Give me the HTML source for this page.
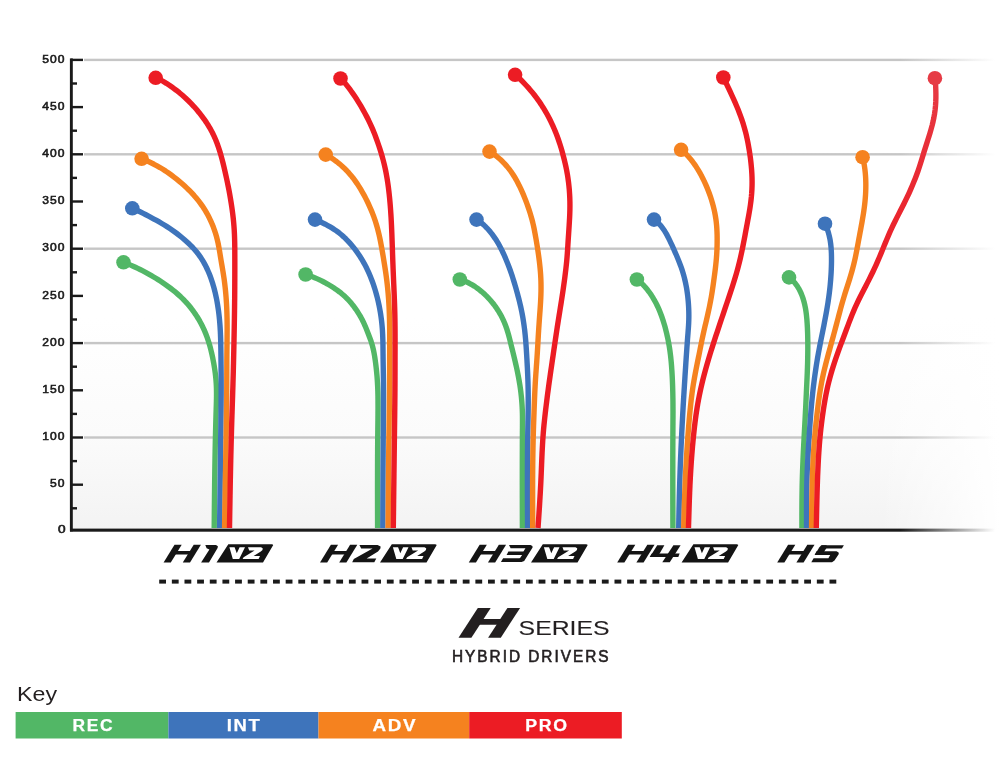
<!DOCTYPE html>
<html><head><meta charset="utf-8"><style>
html,body{margin:0;padding:0;background:#fff;}
body{width:1000px;height:758px;overflow:hidden;position:relative;font-family:"Liberation Sans",sans-serif;}
svg{position:absolute;left:0;top:0;display:block;will-change:transform;}
</style></head><body>
<svg width="1000" height="758" viewBox="0 0 1000 758">
<defs>
<linearGradient id="bgv" x1="0" y1="0" x2="0" y2="1">
 <stop offset="0" stop-color="#ffffff"/>
 <stop offset="0.55" stop-color="#ffffff"/>
 <stop offset="0.8" stop-color="#fbfbfb"/>
 <stop offset="1" stop-color="#f3f3f3"/>
</linearGradient>
<linearGradient id="fadeR" x1="0" y1="0" x2="1" y2="0">
 <stop offset="0" stop-color="#fff" stop-opacity="0"/>
 <stop offset="1" stop-color="#fff" stop-opacity="1"/>
</linearGradient>
<linearGradient id="gridfade" gradientUnits="userSpaceOnUse" x1="900" y1="0" x2="995" y2="0">
 <stop offset="0" stop-color="#c6c6c6"/>
 <stop offset="1" stop-color="#c6c6c6" stop-opacity="0"/>
</linearGradient>
<linearGradient id="axisfade" gradientUnits="userSpaceOnUse" x1="900" y1="0" x2="995" y2="0">
 <stop offset="0" stop-color="#1a1a1a"/>
 <stop offset="1" stop-color="#1a1a1a" stop-opacity="0"/>
</linearGradient>
<linearGradient id="h5red" gradientUnits="userSpaceOnUse" x1="0" y1="78" x2="0" y2="300">
 <stop offset="0" stop-color="#e63b45"/>
 <stop offset="0.45" stop-color="#e92a33"/>
 <stop offset="1" stop-color="#ec1c24"/>
</linearGradient>
</defs>
<rect x="72" y="59" width="928" height="471" fill="url(#bgv)"/>
<rect x="880" y="59" width="120" height="471" fill="url(#fadeR)"/>
<rect x="84" y="58.70" width="912" height="2.4" fill="url(#gridfade)"/>
<rect x="84" y="153.10" width="912" height="2.4" fill="url(#gridfade)"/>
<rect x="84" y="247.50" width="912" height="2.4" fill="url(#gridfade)"/>
<rect x="84" y="341.90" width="912" height="2.4" fill="url(#gridfade)"/>
<rect x="84" y="436.30" width="912" height="2.4" fill="url(#gridfade)"/>
<path d="M123.56 262.17L125.95 263.15L128.34 264.13L130.72 265.13L133.09 266.16L135.44 267.23L137.77 268.34L140.09 269.48L142.39 270.65L144.68 271.86L146.95 273.10L149.20 274.36L151.45 275.65L153.68 276.97L155.89 278.31L158.09 279.67L160.28 281.06L162.44 282.48L164.58 283.93L166.70 285.42L168.80 286.94L170.86 288.49L172.90 290.09L174.91 291.72L176.89 293.39L178.82 295.11L180.72 296.86L182.58 298.66L184.40 300.50L186.16 302.39L187.88 304.32L189.55 306.30L191.17 308.31L192.74 310.37L194.25 312.47L195.71 314.60L197.12 316.77L198.47 318.98L199.77 321.22L201.01 323.49L202.19 325.78L203.32 328.11L204.38 330.47L205.39 332.84L206.34 335.25L207.23 337.67L208.07 340.12L208.86 342.58L209.60 345.06L210.29 347.56L210.94 350.07L211.55 352.59L212.12 355.12L212.66 357.66L213.16 360.20L213.64 362.75L214.08 365.31L214.50 367.87L214.88 370.43L215.23 372.99L215.55 375.55L215.82 378.12L216.04 380.70L216.22 383.27L216.36 385.85L216.45 388.43L216.50 391.01L216.52 393.59L216.51 396.18L216.47 398.76L216.42 401.35L216.35 403.94L216.27 406.52L216.19 409.11L216.11 411.70L216.03 414.28L215.96 416.87L215.88 419.45L215.81 422.04L215.74 424.62L215.67 427.20L215.61 429.79L215.54 432.37L215.48 434.96L215.42 437.54L215.36 440.13L215.31 442.71L215.26 445.29L215.20 447.88L215.15 450.46L215.11 453.05L215.06 455.63L215.01 458.22L214.97 460.80L214.93 463.38L214.89 465.97L214.85 468.55L214.81 471.14L214.77 473.72L214.74 476.31L214.71 478.89L214.67 481.48L214.64 484.06L214.61 486.65L214.58 489.23L214.55 491.81L214.52 494.40L214.49 496.98L214.47 499.57L214.44 502.15L214.41 504.74L214.39 507.32L214.36 509.91L214.34 512.49L214.32 515.08L214.29 517.66L214.27 520.25L214.25 522.83L214.22 525.42L214.20 528.00" fill="none" stroke="#52b766" stroke-width="5.4" stroke-linejoin="round"/>
<circle cx="123.5" cy="262.3" r="7.3" fill="#52b766"/>
<path d="M132.38 208.14L135.11 209.42L137.83 210.71L140.55 212.02L143.24 213.37L145.93 214.75L148.60 216.15L151.27 217.57L153.92 219.01L156.56 220.48L159.19 221.97L161.79 223.49L164.38 225.04L166.95 226.64L169.48 228.28L171.98 229.97L174.45 231.72L176.88 233.51L179.27 235.36L181.63 237.26L183.94 239.20L186.21 241.20L188.44 243.24L190.60 245.34L192.71 247.50L194.74 249.72L196.69 252.02L198.53 254.39L200.28 256.84L201.93 259.36L203.48 261.94L204.95 264.57L206.33 267.26L207.62 269.99L208.82 272.75L209.95 275.56L211.00 278.39L211.98 281.26L212.89 284.14L213.73 287.05L214.51 289.97L215.23 292.90L215.89 295.85L216.51 298.81L217.07 301.79L217.58 304.76L218.05 307.75L218.48 310.74L218.87 313.73L219.21 316.73L219.51 319.74L219.77 322.74L220.00 325.75L220.19 328.77L220.36 331.78L220.49 334.80L220.60 337.81L220.69 340.83L220.76 343.85L220.82 346.87L220.87 349.89L220.91 352.91L220.95 355.94L220.98 358.96L221.02 361.98L221.05 365.00L221.08 368.01L221.11 371.03L221.14 374.05L221.16 377.07L221.18 380.09L221.19 383.11L221.19 386.13L221.19 389.15L221.18 392.16L221.17 395.18L221.15 398.20L221.13 401.22L221.11 404.24L221.08 407.26L221.05 410.28L221.02 413.29L220.98 416.31L220.94 419.33L220.91 422.35L220.87 425.37L220.83 428.39L220.79 431.41L220.75 434.42L220.71 437.44L220.67 440.46L220.63 443.48L220.59 446.50L220.55 449.52L220.52 452.54L220.48 455.56L220.44 458.57L220.40 461.59L220.37 464.61L220.33 467.63L220.29 470.65L220.25 473.67L220.22 476.69L220.18 479.70L220.14 482.72L220.11 485.74L220.07 488.76L220.03 491.78L220.00 494.80L219.96 497.81L219.92 500.83L219.89 503.85L219.85 506.87L219.82 509.89L219.78 512.91L219.74 515.93L219.71 518.94L219.67 521.96L219.64 524.98L219.60 528.00" fill="none" stroke="#3e74bb" stroke-width="5.4" stroke-linejoin="round"/>
<circle cx="132.3" cy="208.3" r="7.3" fill="#3e74bb"/>
<path d="M141.75 158.50L144.85 159.89L147.93 161.31L150.99 162.76L154.02 164.28L157.01 165.88L159.95 167.55L162.86 169.30L165.71 171.13L168.52 173.03L171.29 175.00L174.00 177.04L176.68 179.14L179.31 181.30L181.90 183.51L184.44 185.78L186.92 188.10L189.35 190.49L191.72 192.93L194.02 195.44L196.25 198.00L198.40 200.64L200.46 203.33L202.42 206.10L204.29 208.93L206.05 211.83L207.71 214.79L209.27 217.80L210.73 220.87L212.10 223.97L213.36 227.12L214.52 230.31L215.58 233.53L216.53 236.78L217.38 240.06L218.13 243.36L218.78 246.69L219.37 250.04L219.93 253.39L220.47 256.75L221.02 260.10L221.59 263.45L222.16 266.80L222.73 270.15L223.28 273.51L223.80 276.86L224.28 280.22L224.72 283.59L225.11 286.96L225.47 290.34L225.78 293.72L226.06 297.10L226.30 300.48L226.51 303.87L226.69 307.26L226.83 310.66L226.94 314.05L227.03 317.45L227.09 320.84L227.12 324.24L227.13 327.63L227.13 331.03L227.11 334.43L227.08 337.82L227.05 341.22L227.00 344.62L226.96 348.01L226.92 351.41L226.88 354.81L226.85 358.21L226.83 361.60L226.82 365.00L226.81 368.40L226.80 371.79L226.79 375.19L226.78 378.58L226.77 381.98L226.76 385.38L226.74 388.77L226.71 392.17L226.68 395.56L226.64 398.96L226.61 402.36L226.56 405.75L226.52 409.15L226.47 412.54L226.42 415.94L226.37 419.34L226.32 422.73L226.27 426.13L226.21 429.52L226.16 432.92L226.10 436.31L226.05 439.71L226.00 443.11L225.94 446.50L225.89 449.90L225.83 453.29L225.78 456.69L225.72 460.09L225.67 463.48L225.61 466.88L225.55 470.27L225.50 473.67L225.44 477.06L225.39 480.46L225.33 483.86L225.28 487.25L225.22 490.65L225.16 494.04L225.11 497.44L225.05 500.83L224.99 504.23L224.94 507.63L224.88 511.02L224.83 514.42L224.77 517.81L224.71 521.21L224.66 524.60L224.60 528.00" fill="none" stroke="#f5821f" stroke-width="5.4" stroke-linejoin="round"/>
<circle cx="141.6" cy="158.8" r="7.3" fill="#f5821f"/>
<path d="M156.02 77.27L159.50 79.24L162.96 81.25L166.37 83.34L169.73 85.53L173.01 87.82L176.23 90.21L179.38 92.70L182.45 95.29L185.44 97.97L188.36 100.75L191.20 103.61L193.95 106.55L196.61 109.57L199.19 112.67L201.67 115.84L204.06 119.09L206.34 122.40L208.50 125.78L210.54 129.23L212.43 132.76L214.17 136.37L215.77 140.04L217.23 143.78L218.58 147.56L219.81 151.38L220.95 155.24L222.01 159.13L223.01 163.03L223.95 166.95L224.87 170.88L225.77 174.81L226.63 178.75L227.47 182.69L228.27 186.63L229.03 190.59L229.76 194.55L230.44 198.51L231.09 202.48L231.70 206.46L232.26 210.44L232.78 214.42L233.25 218.42L233.65 222.41L233.98 226.41L234.25 230.42L234.45 234.44L234.59 238.45L234.70 242.47L234.76 246.49L234.80 250.52L234.81 254.54L234.82 258.57L234.82 262.59L234.82 266.62L234.82 270.64L234.81 274.67L234.80 278.69L234.78 282.71L234.76 286.73L234.73 290.76L234.70 294.78L234.67 298.80L234.62 302.82L234.57 306.85L234.52 310.87L234.46 314.89L234.40 318.91L234.33 322.93L234.26 326.95L234.18 330.97L234.11 335.00L234.03 339.02L233.95 343.04L233.87 347.06L233.78 351.08L233.69 355.10L233.60 359.12L233.51 363.14L233.41 367.16L233.31 371.19L233.20 375.21L233.09 379.23L232.97 383.25L232.86 387.27L232.73 391.29L232.61 395.31L232.48 399.33L232.35 403.35L232.22 407.37L232.09 411.39L231.96 415.41L231.83 419.43L231.71 423.45L231.59 427.47L231.47 431.49L231.36 435.51L231.25 439.53L231.14 443.55L231.04 447.57L230.94 451.59L230.84 455.61L230.75 459.63L230.66 463.66L230.58 467.68L230.49 471.70L230.41 475.72L230.33 479.74L230.25 483.76L230.18 487.78L230.11 491.80L230.03 495.83L229.96 499.85L229.90 503.87L229.83 507.89L229.76 511.91L229.69 515.93L229.63 519.96L229.56 523.98L229.50 528.00" fill="none" stroke="#ec1c24" stroke-width="5.4" stroke-linejoin="round"/>
<circle cx="155.7" cy="77.8" r="7.3" fill="#ec1c24"/>
<path d="M305.67 274.32L307.93 275.13L310.18 275.95L312.42 276.80L314.64 277.68L316.84 278.62L319.03 279.60L321.19 280.64L323.32 281.73L325.44 282.86L327.53 284.03L329.60 285.25L331.65 286.51L333.67 287.81L335.66 289.15L337.62 290.54L339.55 291.97L341.43 293.46L343.26 295.00L345.04 296.60L346.76 298.25L348.42 299.97L350.03 301.75L351.57 303.58L353.07 305.45L354.51 307.37L355.90 309.32L357.24 311.31L358.53 313.33L359.78 315.38L360.97 317.46L362.10 319.57L363.18 321.71L364.19 323.88L365.16 326.07L366.08 328.28L366.97 330.50L367.85 332.73L368.72 334.97L369.58 337.20L370.41 339.44L371.18 341.70L371.90 343.98L372.54 346.27L373.12 348.59L373.64 350.92L374.10 353.27L374.52 355.62L374.90 357.99L375.25 360.37L375.57 362.75L375.87 365.13L376.15 367.51L376.41 369.90L376.65 372.28L376.88 374.67L377.08 377.06L377.26 379.45L377.41 381.84L377.55 384.24L377.67 386.63L377.76 389.02L377.84 391.42L377.90 393.82L377.95 396.21L377.98 398.61L378.00 401.00L378.01 403.40L378.02 405.80L378.02 408.19L378.01 410.59L377.99 412.98L377.98 415.38L377.95 417.78L377.93 420.17L377.90 422.57L377.87 424.97L377.84 427.36L377.82 429.76L377.79 432.15L377.76 434.55L377.74 436.95L377.72 439.34L377.70 441.74L377.68 444.14L377.66 446.53L377.64 448.93L377.63 451.32L377.62 453.72L377.60 456.12L377.59 458.51L377.58 460.91L377.57 463.30L377.56 465.70L377.56 468.10L377.55 470.49L377.55 472.89L377.54 475.28L377.54 477.68L377.54 480.08L377.53 482.47L377.53 484.87L377.53 487.27L377.53 489.66L377.53 492.06L377.54 494.45L377.54 496.85L377.54 499.25L377.54 501.64L377.55 504.04L377.55 506.43L377.56 508.83L377.56 511.23L377.57 513.62L377.57 516.02L377.58 518.42L377.58 520.81L377.59 523.21L377.59 525.60L377.60 528.00" fill="none" stroke="#52b766" stroke-width="5.4" stroke-linejoin="round"/>
<circle cx="305.6" cy="274.5" r="7.3" fill="#52b766"/>
<path d="M315.11 219.40L317.68 220.57L320.23 221.75L322.78 222.97L325.30 224.22L327.78 225.54L330.23 226.92L332.64 228.37L334.99 229.90L337.28 231.51L339.51 233.21L341.67 235.00L343.76 236.87L345.80 238.81L347.77 240.81L349.68 242.88L351.52 245.00L353.31 247.18L355.05 249.41L356.72 251.67L358.34 253.98L359.90 256.33L361.41 258.71L362.86 261.13L364.25 263.58L365.57 266.06L366.84 268.57L368.05 271.12L369.21 273.69L370.30 276.28L371.35 278.90L372.34 281.53L373.28 284.19L374.17 286.86L375.02 289.55L375.82 292.25L376.58 294.96L377.29 297.69L377.96 300.42L378.58 303.17L379.17 305.93L379.71 308.69L380.21 311.46L380.66 314.24L381.07 317.02L381.44 319.81L381.76 322.60L382.04 325.40L382.27 328.20L382.46 331.01L382.61 333.82L382.73 336.63L382.82 339.44L382.90 342.26L382.95 345.07L382.99 347.89L383.02 350.71L383.05 353.52L383.08 356.34L383.12 359.16L383.16 361.97L383.20 364.79L383.25 367.60L383.30 370.42L383.34 373.23L383.39 376.04L383.43 378.86L383.46 381.67L383.49 384.48L383.51 387.30L383.52 390.11L383.53 392.93L383.54 395.74L383.53 398.55L383.53 401.37L383.51 404.18L383.50 407.00L383.48 409.81L383.46 412.62L383.44 415.44L383.41 418.25L383.39 421.07L383.36 423.88L383.34 426.69L383.31 429.51L383.29 432.32L383.26 435.14L383.24 437.95L383.22 440.77L383.20 443.58L383.17 446.39L383.15 449.21L383.14 452.02L383.12 454.84L383.10 457.65L383.08 460.46L383.07 463.28L383.05 466.09L383.03 468.91L383.02 471.72L383.00 474.53L382.99 477.35L382.98 480.16L382.97 482.98L382.95 485.79L382.94 488.60L382.93 491.42L382.92 494.23L382.91 497.05L382.90 499.86L382.89 502.67L382.88 505.49L382.87 508.30L382.86 511.12L382.85 513.93L382.84 516.74L382.83 519.56L382.82 522.37L382.81 525.19L382.80 528.00" fill="none" stroke="#3e74bb" stroke-width="5.4" stroke-linejoin="round"/>
<circle cx="315" cy="219.6" r="7.3" fill="#3e74bb"/>
<path d="M325.97 154.25L328.72 156.06L331.46 157.90L334.16 159.79L336.80 161.76L339.37 163.82L341.87 165.96L344.28 168.19L346.61 170.51L348.85 172.92L350.99 175.42L353.05 177.99L355.03 180.64L356.92 183.34L358.74 186.11L360.49 188.92L362.16 191.78L363.77 194.67L365.33 197.60L366.82 200.56L368.26 203.54L369.64 206.55L370.97 209.58L372.24 212.64L373.43 215.71L374.55 218.82L375.60 221.95L376.56 225.11L377.45 228.28L378.28 231.48L379.05 234.69L379.77 237.92L380.44 241.15L381.07 244.40L381.67 247.65L382.24 250.91L382.80 254.17L383.34 257.43L383.87 260.70L384.40 263.96L384.92 267.23L385.42 270.49L385.90 273.76L386.35 277.04L386.77 280.31L387.16 283.59L387.52 286.88L387.85 290.16L388.15 293.45L388.41 296.75L388.65 300.04L388.86 303.34L389.04 306.64L389.19 309.94L389.32 313.24L389.43 316.54L389.52 319.84L389.58 323.15L389.63 326.45L389.67 329.75L389.69 333.06L389.70 336.36L389.70 339.67L389.69 342.97L389.68 346.28L389.67 349.58L389.66 352.89L389.64 356.19L389.63 359.50L389.63 362.80L389.62 366.11L389.62 369.41L389.61 372.71L389.60 376.02L389.59 379.32L389.58 382.63L389.56 385.93L389.53 389.23L389.50 392.54L389.47 395.84L389.43 399.15L389.39 402.45L389.35 405.75L389.31 409.06L389.26 412.36L389.21 415.67L389.17 418.97L389.12 422.27L389.07 425.58L389.02 428.88L388.98 432.18L388.93 435.49L388.89 438.79L388.85 442.10L388.81 445.40L388.77 448.70L388.73 452.01L388.70 455.31L388.66 458.62L388.63 461.92L388.60 465.22L388.56 468.53L388.53 471.83L388.50 475.14L388.47 478.44L388.45 481.74L388.42 485.05L388.39 488.35L388.36 491.66L388.34 494.96L388.31 498.26L388.29 501.57L388.26 504.87L388.24 508.18L388.22 511.48L388.19 514.78L388.17 518.09L388.15 521.39L388.12 524.70L388.10 528.00" fill="none" stroke="#f5821f" stroke-width="5.4" stroke-linejoin="round"/>
<circle cx="325.7" cy="154.6" r="7.3" fill="#f5821f"/>
<path d="M340.94 78.12L343.41 81.09L345.84 84.08L348.21 87.12L350.52 90.22L352.76 93.37L354.94 96.57L357.06 99.81L359.11 103.10L361.11 106.43L363.04 109.79L364.91 113.19L366.72 116.63L368.47 120.09L370.14 123.59L371.74 127.13L373.27 130.69L374.72 134.29L376.10 137.92L377.41 141.57L378.67 145.25L379.88 148.93L381.05 152.64L382.15 156.36L383.18 160.10L384.13 163.86L385.00 167.63L385.80 171.43L386.52 175.24L387.17 179.06L387.77 182.89L388.30 186.74L388.79 190.59L389.23 194.45L389.62 198.31L389.98 202.17L390.30 206.04L390.59 209.91L390.85 213.79L391.09 217.66L391.30 221.54L391.49 225.41L391.66 229.29L391.82 233.17L391.96 237.04L392.10 240.92L392.24 244.80L392.37 248.68L392.51 252.56L392.64 256.44L392.78 260.31L392.93 264.19L393.07 268.07L393.23 271.95L393.39 275.82L393.55 279.70L393.72 283.58L393.89 287.45L394.06 291.33L394.22 295.21L394.37 299.08L394.51 302.96L394.64 306.84L394.75 310.72L394.84 314.60L394.91 318.47L394.97 322.35L395.01 326.23L395.04 330.11L395.06 333.99L395.07 337.87L395.07 341.75L395.06 345.64L395.06 349.52L395.05 353.40L395.04 357.28L395.03 361.16L395.03 365.04L395.02 368.92L395.01 372.80L395.00 376.68L394.99 380.56L394.97 384.44L394.95 388.32L394.92 392.20L394.89 396.08L394.85 399.96L394.82 403.84L394.77 407.72L394.73 411.60L394.69 415.48L394.64 419.36L394.59 423.24L394.54 427.12L394.49 431.00L394.44 434.88L394.40 438.76L394.35 442.64L394.30 446.52L394.25 450.40L394.20 454.28L394.15 458.16L394.11 462.04L394.06 465.92L394.01 469.80L393.96 473.68L393.92 477.56L393.87 481.44L393.82 485.32L393.77 489.20L393.73 493.08L393.68 496.96L393.63 500.84L393.58 504.72L393.54 508.60L393.49 512.48L393.44 516.36L393.39 520.24L393.35 524.12L393.30 528.00" fill="none" stroke="#ec1c24" stroke-width="5.4" stroke-linejoin="round"/>
<circle cx="340.5" cy="78.5" r="7.3" fill="#ec1c24"/>
<path d="M459.94 279.23L462.06 280.06L464.16 280.92L466.25 281.81L468.31 282.77L470.32 283.81L472.30 284.92L474.23 286.11L476.12 287.38L477.97 288.71L479.77 290.09L481.54 291.54L483.27 293.03L484.95 294.58L486.59 296.17L488.19 297.81L489.74 299.49L491.24 301.21L492.70 302.97L494.11 304.77L495.46 306.61L496.77 308.49L498.02 310.40L499.22 312.34L500.36 314.32L501.44 316.32L502.47 318.36L503.44 320.42L504.36 322.51L505.22 324.62L506.02 326.75L506.77 328.90L507.46 331.07L508.11 333.26L508.73 335.46L509.31 337.66L509.88 339.88L510.43 342.10L510.97 344.32L511.52 346.54L512.07 348.75L512.62 350.97L513.16 353.19L513.71 355.40L514.25 357.62L514.78 359.84L515.31 362.06L515.82 364.28L516.32 366.51L516.81 368.74L517.28 370.97L517.74 373.21L518.18 375.45L518.61 377.69L519.01 379.93L519.40 382.18L519.76 384.43L520.11 386.69L520.43 388.95L520.73 391.21L521.00 393.47L521.26 395.74L521.49 398.01L521.69 400.28L521.87 402.55L522.03 404.83L522.16 407.11L522.27 409.38L522.35 411.66L522.41 413.94L522.45 416.22L522.47 418.50L522.48 420.78L522.48 423.07L522.47 425.35L522.46 427.63L522.44 429.91L522.42 432.20L522.41 434.48L522.40 436.76L522.39 439.04L522.37 441.32L522.36 443.61L522.35 445.89L522.35 448.17L522.34 450.45L522.33 452.73L522.33 455.01L522.32 457.29L522.32 459.58L522.31 461.86L522.31 464.14L522.31 466.42L522.30 468.70L522.30 470.98L522.30 473.26L522.30 475.54L522.30 477.83L522.30 480.11L522.30 482.39L522.31 484.67L522.31 486.95L522.31 489.23L522.31 491.51L522.32 493.79L522.32 496.07L522.33 498.35L522.33 500.63L522.33 502.91L522.34 505.19L522.35 507.48L522.35 509.76L522.36 512.04L522.36 514.32L522.37 516.60L522.37 518.88L522.38 521.16L522.39 523.44L522.39 525.72L522.40 528.00" fill="none" stroke="#52b766" stroke-width="5.4" stroke-linejoin="round"/>
<circle cx="459.8" cy="279.5" r="7.3" fill="#52b766"/>
<path d="M476.83 219.25L478.94 220.91L481.02 222.59L483.06 224.32L485.03 226.14L486.90 228.04L488.70 230.03L490.42 232.09L492.08 234.21L493.67 236.38L495.21 238.59L496.69 240.85L498.09 243.16L499.42 245.51L500.68 247.90L501.89 250.32L503.05 252.76L504.17 255.22L505.26 257.70L506.32 260.19L507.35 262.70L508.35 265.22L509.31 267.75L510.23 270.29L511.13 272.85L512.00 275.41L512.83 277.99L513.64 280.57L514.43 283.16L515.20 285.75L515.95 288.35L516.69 290.96L517.41 293.57L518.11 296.18L518.79 298.80L519.45 301.42L520.09 304.05L520.69 306.69L521.27 309.33L521.81 311.98L522.32 314.63L522.80 317.29L523.24 319.96L523.65 322.63L524.04 325.31L524.39 327.99L524.72 330.68L525.01 333.37L525.28 336.06L525.53 338.75L525.76 341.45L525.96 344.14L526.16 346.84L526.34 349.54L526.50 352.24L526.67 354.94L526.82 357.64L526.98 360.34L527.13 363.05L527.27 365.75L527.41 368.45L527.54 371.15L527.66 373.85L527.77 376.55L527.87 379.26L527.96 381.96L528.03 384.66L528.09 387.37L528.14 390.07L528.18 392.78L528.21 395.48L528.22 398.18L528.23 400.89L528.23 403.59L528.21 406.30L528.19 409.00L528.15 411.71L528.11 414.41L528.07 417.12L528.02 419.82L527.97 422.52L527.91 425.23L527.86 427.93L527.81 430.64L527.76 433.34L527.72 436.04L527.68 438.75L527.65 441.45L527.61 444.16L527.58 446.86L527.55 449.57L527.53 452.27L527.51 454.97L527.49 457.68L527.47 460.38L527.46 463.09L527.45 465.79L527.44 468.50L527.43 471.20L527.42 473.91L527.42 476.61L527.42 479.32L527.42 482.02L527.42 484.72L527.42 487.43L527.43 490.13L527.44 492.84L527.44 495.54L527.45 498.25L527.46 500.95L527.47 503.66L527.48 506.36L527.50 509.07L527.51 511.77L527.52 514.48L527.54 517.18L527.55 519.89L527.57 522.59L527.58 525.30L527.60 528.00" fill="none" stroke="#3e74bb" stroke-width="5.4" stroke-linejoin="round"/>
<circle cx="476.5" cy="219.6" r="7.3" fill="#3e74bb"/>
<path d="M489.87 151.18L492.50 153.14L495.11 155.12L497.66 157.17L500.13 159.31L502.50 161.55L504.77 163.89L506.95 166.33L509.01 168.86L510.97 171.49L512.81 174.19L514.56 176.97L516.21 179.82L517.78 182.71L519.28 185.65L520.71 188.63L522.07 191.64L523.38 194.67L524.63 197.73L525.83 200.80L526.99 203.89L528.10 207.00L529.16 210.12L530.16 213.26L531.10 216.41L531.98 219.58L532.79 222.76L533.53 225.97L534.21 229.18L534.84 232.41L535.43 235.65L536.00 238.90L536.54 242.15L537.08 245.40L537.59 248.65L538.08 251.91L538.54 255.17L538.98 258.44L539.39 261.70L539.77 264.97L540.10 268.25L540.39 271.53L540.63 274.81L540.81 278.09L540.94 281.37L541.00 284.66L541.02 287.95L540.99 291.24L540.91 294.53L540.78 297.82L540.62 301.10L540.43 304.39L540.22 307.68L539.99 310.96L539.75 314.25L539.51 317.53L539.28 320.81L539.05 324.10L538.83 327.38L538.61 330.67L538.41 333.95L538.22 337.24L538.03 340.53L537.84 343.81L537.66 347.10L537.47 350.38L537.27 353.67L537.06 356.95L536.84 360.24L536.61 363.52L536.37 366.80L536.14 370.08L535.90 373.37L535.68 376.65L535.46 379.93L535.27 383.22L535.09 386.51L534.92 389.79L534.77 393.08L534.63 396.37L534.50 399.66L534.38 402.95L534.25 406.24L534.13 409.52L534.01 412.81L533.89 416.10L533.78 419.39L533.66 422.68L533.55 425.97L533.44 429.26L533.35 432.55L533.26 435.84L533.17 439.13L533.10 442.42L533.03 445.71L532.96 449.00L532.91 452.29L532.86 455.58L532.81 458.87L532.77 462.17L532.73 465.46L532.70 468.75L532.68 472.04L532.66 475.33L532.64 478.62L532.63 481.91L532.62 485.20L532.61 488.50L532.61 491.79L532.61 495.08L532.61 498.37L532.61 501.66L532.62 504.96L532.63 508.25L532.64 511.54L532.65 514.83L532.66 518.12L532.67 521.42L532.68 524.71L532.70 528.00" fill="none" stroke="#f5821f" stroke-width="5.4" stroke-linejoin="round"/>
<circle cx="489.5" cy="151.6" r="7.3" fill="#f5821f"/>
<path d="M515.40 74.51L518.23 77.26L521.04 80.04L523.81 82.86L526.51 85.73L529.15 88.67L531.71 91.67L534.18 94.75L536.57 97.89L538.87 101.10L541.09 104.37L543.22 107.70L545.27 111.08L547.23 114.51L549.10 118.00L550.88 121.53L552.56 125.10L554.16 128.72L555.68 132.37L557.10 136.06L558.44 139.78L559.71 143.53L560.89 147.30L562.00 151.10L563.05 154.92L564.04 158.75L564.97 162.59L565.84 166.45L566.64 170.32L567.35 174.20L567.96 178.10L568.50 182.02L568.94 185.94L569.31 189.87L569.58 193.81L569.78 197.76L569.90 201.71L569.93 205.66L569.89 209.61L569.78 213.56L569.61 217.51L569.40 221.46L569.16 225.41L568.90 229.36L568.64 233.31L568.38 237.26L568.12 241.20L567.88 245.15L567.63 249.09L567.36 253.04L567.06 256.98L566.72 260.91L566.33 264.84L565.89 268.77L565.42 272.69L564.93 276.61L564.41 280.53L563.88 284.45L563.32 288.37L562.75 292.28L562.17 296.19L561.56 300.10L560.95 304.00L560.32 307.91L559.70 311.81L559.07 315.72L558.45 319.62L557.84 323.53L557.23 327.44L556.64 331.34L556.05 335.25L555.47 339.17L554.89 343.08L554.32 346.99L553.75 350.90L553.18 354.81L552.60 358.73L552.03 362.64L551.46 366.55L550.89 370.46L550.32 374.38L549.76 378.29L549.21 382.21L548.67 386.13L548.15 390.04L547.63 393.96L547.12 397.89L546.63 401.81L546.15 405.73L545.67 409.66L545.21 413.59L544.77 417.52L544.35 421.45L543.95 425.38L543.59 429.31L543.26 433.25L542.97 437.19L542.71 441.14L542.48 445.08L542.27 449.03L542.07 452.98L541.90 456.93L541.73 460.88L541.57 464.83L541.41 468.79L541.25 472.74L541.08 476.69L540.90 480.64L540.71 484.59L540.50 488.54L540.29 492.49L540.06 496.44L539.82 500.38L539.58 504.33L539.33 508.28L539.07 512.22L538.81 516.17L538.55 520.11L538.28 524.06L538.02 528.00" fill="none" stroke="#ec1c24" stroke-width="5.4" stroke-linejoin="round"/>
<circle cx="515.1" cy="74.8" r="7.3" fill="#ec1c24"/>
<path d="M637.10 279.31L638.71 280.75L640.32 282.20L641.89 283.67L643.42 285.19L644.89 286.76L646.31 288.39L647.67 290.06L648.97 291.78L650.23 293.54L651.44 295.34L652.60 297.17L653.71 299.02L654.79 300.91L655.81 302.82L656.80 304.75L657.74 306.71L658.63 308.69L659.49 310.68L660.31 312.69L661.08 314.71L661.83 316.75L662.54 318.80L663.21 320.86L663.85 322.93L664.47 325.01L665.06 327.10L665.62 329.19L666.15 331.30L666.66 333.40L667.15 335.52L667.61 337.63L668.05 339.76L668.46 341.88L668.85 344.02L669.22 346.15L669.56 348.29L669.88 350.44L670.17 352.58L670.44 354.73L670.69 356.89L670.92 359.04L671.14 361.20L671.33 363.36L671.51 365.52L671.67 367.68L671.82 369.84L671.96 372.00L672.09 374.17L672.21 376.33L672.31 378.50L672.41 380.66L672.49 382.83L672.57 384.99L672.64 387.16L672.70 389.32L672.76 391.49L672.81 393.66L672.85 395.82L672.89 397.99L672.92 400.16L672.95 402.32L672.97 404.49L672.98 406.66L672.99 408.82L673.00 410.99L673.00 413.16L672.99 415.33L672.99 417.49L672.97 419.66L672.96 421.83L672.95 423.99L672.93 426.16L672.92 428.33L672.91 430.49L672.89 432.66L672.88 434.83L672.87 436.99L672.86 439.16L672.85 441.33L672.84 443.49L672.83 445.66L672.82 447.83L672.82 449.99L672.81 452.16L672.80 454.33L672.80 456.49L672.80 458.66L672.79 460.83L672.79 463.00L672.79 465.16L672.79 467.33L672.78 469.50L672.78 471.66L672.78 473.83L672.79 476.00L672.79 478.16L672.79 480.33L672.79 482.50L672.79 484.66L672.80 486.83L672.80 489.00L672.80 491.16L672.81 493.33L672.81 495.50L672.81 497.66L672.82 499.83L672.82 502.00L672.83 504.16L672.84 506.33L672.84 508.50L672.85 510.67L672.85 512.83L672.86 515.00L672.87 517.17L672.87 519.33L672.88 521.50L672.89 523.67L672.89 525.83L672.90 528.00" fill="none" stroke="#52b766" stroke-width="5.4" stroke-linejoin="round"/>
<circle cx="636.9" cy="279.5" r="7.3" fill="#52b766"/>
<path d="M654.46 219.22L656.34 221.05L658.19 222.92L659.97 224.83L661.66 226.84L663.22 228.93L664.69 231.10L666.06 233.35L667.33 235.66L668.53 238.02L669.69 240.41L670.83 242.81L671.96 245.23L673.07 247.66L674.16 250.10L675.25 252.55L676.32 255.01L677.37 257.47L678.39 259.94L679.38 262.42L680.33 264.92L681.24 267.43L682.09 269.96L682.89 272.51L683.63 275.07L684.33 277.65L684.96 280.24L685.55 282.84L686.08 285.46L686.56 288.08L686.99 290.72L687.37 293.36L687.70 296.02L687.99 298.67L688.23 301.33L688.44 304.00L688.60 306.66L688.73 309.33L688.81 312.00L688.85 314.67L688.84 317.34L688.79 320.01L688.69 322.67L688.55 325.34L688.38 328.00L688.18 330.67L687.98 333.33L687.77 335.99L687.56 338.65L687.36 341.32L687.17 343.98L686.97 346.64L686.79 349.31L686.60 351.97L686.42 354.64L686.24 357.30L686.06 359.96L685.88 362.63L685.71 365.29L685.54 367.96L685.36 370.62L685.19 373.29L685.02 375.95L684.86 378.62L684.69 381.28L684.52 383.95L684.36 386.61L684.19 389.28L684.03 391.94L683.86 394.61L683.70 397.27L683.54 399.94L683.39 402.60L683.23 405.27L683.08 407.93L682.93 410.60L682.78 413.27L682.63 415.93L682.49 418.60L682.35 421.26L682.21 423.93L682.07 426.60L681.93 429.26L681.80 431.93L681.67 434.60L681.54 437.26L681.41 439.93L681.29 442.60L681.16 445.27L681.04 447.93L680.92 450.60L680.81 453.27L680.69 455.94L680.58 458.60L680.47 461.27L680.37 463.94L680.27 466.61L680.17 469.28L680.07 471.95L679.98 474.61L679.89 477.28L679.81 479.95L679.72 482.62L679.65 485.29L679.57 487.96L679.50 490.63L679.43 493.30L679.36 495.97L679.30 498.63L679.24 501.30L679.18 503.97L679.12 506.64L679.06 509.31L679.01 511.98L678.95 514.65L678.90 517.32L678.85 519.99L678.80 522.66L678.75 525.33L678.70 528.00" fill="none" stroke="#3e74bb" stroke-width="5.4" stroke-linejoin="round"/>
<circle cx="654" cy="219.6" r="7.3" fill="#3e74bb"/>
<path d="M681.50 149.45L683.81 151.76L686.09 154.09L688.31 156.48L690.44 158.94L692.46 161.49L694.38 164.12L696.21 166.82L697.96 169.59L699.62 172.41L701.20 175.29L702.71 178.21L704.15 181.16L705.53 184.16L706.83 187.18L708.08 190.23L709.25 193.31L710.36 196.41L711.38 199.53L712.34 202.68L713.21 205.85L713.99 209.04L714.69 212.24L715.30 215.47L715.82 218.70L716.25 221.95L716.59 225.22L716.83 228.49L717.00 231.77L717.11 235.05L717.15 238.34L717.14 241.62L717.10 244.91L717.00 248.20L716.86 251.48L716.67 254.76L716.43 258.03L716.14 261.31L715.81 264.57L715.44 267.84L715.04 271.10L714.62 274.36L714.18 277.61L713.74 280.87L713.29 284.12L712.82 287.37L712.33 290.62L711.82 293.86L711.27 297.10L710.69 300.33L710.07 303.55L709.43 306.77L708.75 309.99L708.05 313.19L707.33 316.39L706.59 319.59L705.83 322.79L705.08 325.98L704.33 329.18L703.61 332.38L702.90 335.59L702.22 338.80L701.55 342.02L700.90 345.23L700.25 348.45L699.61 351.67L698.97 354.90L698.32 358.12L697.67 361.34L697.02 364.56L696.38 367.78L695.74 371.00L695.13 374.22L694.53 377.45L693.96 380.68L693.42 383.92L692.91 387.16L692.43 390.41L691.99 393.66L691.57 396.92L691.17 400.18L690.80 403.44L690.45 406.71L690.12 409.98L689.80 413.24L689.50 416.51L689.21 419.79L688.93 423.06L688.67 426.33L688.41 429.61L688.16 432.88L687.91 436.16L687.67 439.43L687.44 442.71L687.22 445.98L687.00 449.26L686.79 452.54L686.59 455.82L686.39 459.09L686.20 462.37L686.02 465.65L685.84 468.93L685.68 472.21L685.52 475.49L685.36 478.77L685.22 482.05L685.08 485.33L684.95 488.61L684.82 491.89L684.70 495.18L684.59 498.46L684.47 501.74L684.37 505.02L684.27 508.30L684.17 511.59L684.07 514.87L683.97 518.15L683.88 521.43L683.79 524.72L683.69 528.00" fill="none" stroke="#f5821f" stroke-width="5.4" stroke-linejoin="round"/>
<circle cx="681.1" cy="149.8" r="7.3" fill="#f5821f"/>
<path d="M723.39 77.46L725.09 80.96L726.79 84.47L728.47 87.98L730.13 91.50L731.77 95.04L733.38 98.58L734.96 102.14L736.49 105.72L737.98 109.32L739.40 112.94L740.76 116.58L742.05 120.25L743.25 123.95L744.36 127.67L745.39 131.42L746.32 135.20L747.16 139.00L747.93 142.81L748.64 146.65L749.29 150.49L749.88 154.34L750.42 158.20L750.89 162.07L751.28 165.95L751.61 169.83L751.86 173.72L752.02 177.60L752.09 181.49L752.06 185.38L751.93 189.26L751.69 193.14L751.36 197.01L750.94 200.87L750.44 204.73L749.87 208.58L749.23 212.42L748.56 216.25L747.85 220.09L747.13 223.92L746.42 227.75L745.70 231.58L744.99 235.41L744.26 239.23L743.53 243.06L742.77 246.88L741.99 250.69L741.17 254.50L740.32 258.29L739.41 262.08L738.46 265.85L737.47 269.61L736.42 273.36L735.34 277.09L734.20 280.81L733.03 284.52L731.83 288.23L730.61 291.92L729.38 295.62L728.14 299.31L726.90 303.00L725.65 306.69L724.41 310.38L723.17 314.07L721.93 317.76L720.69 321.45L719.45 325.14L718.22 328.83L716.99 332.53L715.77 336.22L714.57 339.92L713.37 343.63L712.19 347.34L711.03 351.06L709.88 354.78L708.75 358.50L707.65 362.24L706.57 365.98L705.52 369.73L704.50 373.48L703.51 377.25L702.57 381.02L701.66 384.81L700.79 388.60L699.97 392.41L699.19 396.22L698.45 400.04L697.76 403.87L697.11 407.71L696.51 411.55L695.95 415.40L695.43 419.26L694.94 423.12L694.48 426.99L694.05 430.86L693.64 434.73L693.25 438.60L692.88 442.48L692.52 446.36L692.19 450.24L691.88 454.12L691.58 458.00L691.30 461.88L691.04 465.77L690.79 469.65L690.56 473.54L690.34 477.43L690.14 481.32L689.95 485.20L689.78 489.09L689.62 492.98L689.47 496.87L689.32 500.76L689.19 504.65L689.06 508.54L688.94 512.43L688.82 516.33L688.71 520.22L688.59 524.11L688.48 528.00" fill="none" stroke="#ec1c24" stroke-width="5.4" stroke-linejoin="round"/>
<circle cx="723.3" cy="77.5" r="7.3" fill="#ec1c24"/>
<path d="M789.31 277.17L790.84 278.67L792.34 280.18L793.80 281.74L795.19 283.34L796.48 285.02L797.68 286.77L798.77 288.58L799.78 290.46L800.70 292.38L801.54 294.35L802.31 296.35L803.01 298.39L803.64 300.44L804.21 302.52L804.71 304.62L805.16 306.73L805.55 308.85L805.90 310.98L806.20 313.11L806.46 315.25L806.68 317.40L806.88 319.55L807.04 321.70L807.18 323.85L807.31 326.00L807.42 328.15L807.51 330.31L807.59 332.46L807.66 334.61L807.71 336.76L807.75 338.91L807.78 341.06L807.80 343.21L807.81 345.36L807.82 347.51L807.81 349.66L807.79 351.81L807.77 353.96L807.74 356.11L807.70 358.26L807.66 360.41L807.61 362.56L807.55 364.71L807.48 366.86L807.41 369.01L807.33 371.16L807.25 373.30L807.16 375.45L807.07 377.60L806.97 379.75L806.87 381.90L806.77 384.05L806.67 386.19L806.57 388.34L806.47 390.49L806.37 392.64L806.27 394.78L806.17 396.93L806.07 399.08L805.97 401.23L805.87 403.38L805.77 405.52L805.67 407.67L805.56 409.82L805.45 411.97L805.34 414.11L805.23 416.26L805.12 418.41L805.01 420.56L804.89 422.70L804.78 424.85L804.66 427.00L804.55 429.14L804.43 431.29L804.32 433.44L804.20 435.59L804.09 437.73L803.98 439.88L803.86 442.03L803.75 444.18L803.65 446.32L803.54 448.47L803.43 450.62L803.33 452.77L803.23 454.91L803.13 457.06L803.04 459.21L802.95 461.36L802.86 463.51L802.77 465.66L802.69 467.80L802.61 469.95L802.54 472.10L802.47 474.25L802.40 476.40L802.34 478.55L802.29 480.70L802.24 482.85L802.19 485.00L802.15 487.15L802.11 489.30L802.08 491.45L802.05 493.60L802.02 495.75L802.00 497.90L801.98 500.05L801.96 502.20L801.95 504.35L801.93 506.50L801.92 508.65L801.92 510.80L801.91 512.95L801.90 515.10L801.90 517.25L801.90 519.40L801.90 521.55L801.90 523.70L801.90 525.85L801.90 528.00" fill="none" stroke="#52b766" stroke-width="5.4" stroke-linejoin="round"/>
<circle cx="789" cy="277.4" r="7.3" fill="#52b766"/>
<path d="M825.33 223.61L826.21 226.03L827.06 228.45L827.87 230.89L828.60 233.34L829.24 235.82L829.79 238.32L830.25 240.84L830.62 243.38L830.92 245.94L831.14 248.50L831.30 251.08L831.41 253.66L831.47 256.25L831.49 258.84L831.49 261.42L831.45 264.01L831.38 266.59L831.29 269.18L831.17 271.76L831.03 274.34L830.86 276.91L830.68 279.49L830.46 282.06L830.23 284.63L829.98 287.20L829.70 289.76L829.40 292.32L829.08 294.88L828.73 297.44L828.36 299.99L827.98 302.54L827.57 305.09L827.15 307.63L826.71 310.18L826.27 312.72L825.81 315.25L825.34 317.79L824.86 320.33L824.38 322.86L823.89 325.39L823.39 327.92L822.88 330.45L822.38 332.98L821.86 335.51L821.35 338.04L820.84 340.57L820.34 343.10L819.84 345.63L819.35 348.16L818.87 350.69L818.40 353.23L817.95 355.77L817.51 358.31L817.08 360.85L816.66 363.40L816.26 365.95L815.87 368.50L815.49 371.05L815.12 373.60L814.76 376.15L814.42 378.71L814.09 381.27L813.76 383.83L813.45 386.39L813.15 388.95L812.86 391.51L812.57 394.08L812.30 396.64L812.04 399.21L811.79 401.77L811.55 404.34L811.31 406.91L811.09 409.48L810.88 412.05L810.68 414.62L810.48 417.19L810.29 419.77L810.11 422.34L809.93 424.91L809.75 427.49L809.58 430.06L809.40 432.63L809.23 435.21L809.06 437.78L808.89 440.36L808.73 442.93L808.57 445.51L808.41 448.08L808.25 450.66L808.10 453.23L807.96 455.81L807.82 458.38L807.69 460.96L807.56 463.53L807.44 466.11L807.32 468.69L807.21 471.26L807.12 473.84L807.02 476.42L806.94 479.00L806.87 481.57L806.80 484.15L806.75 486.73L806.70 489.31L806.66 491.89L806.63 494.47L806.60 497.04L806.58 499.62L806.56 502.20L806.55 504.78L806.54 507.36L806.54 509.94L806.54 512.52L806.55 515.10L806.55 517.68L806.56 520.26L806.57 522.84L806.58 525.42L806.59 528.00" fill="none" stroke="#3e74bb" stroke-width="5.4" stroke-linejoin="round"/>
<circle cx="825" cy="223.7" r="7.3" fill="#3e74bb"/>
<path d="M862.91 157.16L863.48 160.27L864.02 163.39L864.51 166.51L864.93 169.64L865.27 172.78L865.53 175.93L865.70 179.09L865.80 182.25L865.83 185.41L865.79 188.57L865.69 191.74L865.53 194.90L865.30 198.06L865.02 201.22L864.69 204.37L864.30 207.52L863.87 210.66L863.40 213.79L862.89 216.92L862.36 220.05L861.80 223.17L861.23 226.29L860.66 229.41L860.07 232.52L859.49 235.64L858.91 238.76L858.34 241.87L857.77 244.99L857.19 248.11L856.60 251.22L855.99 254.33L855.35 257.43L854.66 260.52L853.93 263.60L853.16 266.67L852.35 269.73L851.50 272.78L850.61 275.82L849.69 278.85L848.75 281.87L847.78 284.89L846.81 287.90L845.84 290.92L844.88 293.94L843.95 296.96L843.05 300.00L842.17 303.04L841.32 306.09L840.48 309.15L839.66 312.21L838.85 315.27L838.04 318.33L837.23 321.40L836.42 324.46L835.61 327.52L834.79 330.59L833.97 333.65L833.14 336.70L832.30 339.76L831.47 342.82L830.63 345.87L829.79 348.93L828.95 351.98L828.11 355.04L827.29 358.10L826.48 361.16L825.69 364.23L824.92 367.30L824.18 370.38L823.47 373.47L822.79 376.57L822.15 379.67L821.54 382.78L820.97 385.89L820.43 389.01L819.93 392.14L819.45 395.27L819.01 398.41L818.58 401.55L818.18 404.69L817.79 407.83L817.41 410.98L817.03 414.13L816.67 417.28L816.32 420.43L815.97 423.58L815.65 426.73L815.34 429.88L815.04 433.04L814.76 436.19L814.50 439.35L814.25 442.51L814.01 445.67L813.79 448.83L813.59 451.99L813.39 455.15L813.21 458.32L813.05 461.48L812.89 464.65L812.75 467.81L812.62 470.98L812.50 474.15L812.39 477.31L812.29 480.48L812.20 483.65L812.12 486.81L812.04 489.98L811.98 493.15L811.92 496.32L811.87 499.49L811.82 502.65L811.78 505.82L811.75 508.99L811.72 512.16L811.69 515.33L811.66 518.49L811.64 521.66L811.61 524.83L811.59 528.00" fill="none" stroke="#f5821f" stroke-width="5.4" stroke-linejoin="round"/>
<circle cx="862.6" cy="157.2" r="7.3" fill="#f5821f"/>
<path d="M935.23 78.20L935.46 82.17L935.66 86.13L935.81 90.09L935.89 94.05L935.88 98.01L935.75 101.96L935.50 105.90L935.11 109.83L934.57 113.74L933.89 117.62L933.08 121.49L932.14 125.33L931.11 129.16L930.01 132.96L928.85 136.76L927.65 140.54L926.44 144.32L925.23 148.10L924.04 151.88L922.88 155.67L921.72 159.46L920.55 163.24L919.34 167.01L918.07 170.76L916.73 174.49L915.34 178.19L913.88 181.87L912.36 185.53L910.79 189.16L909.17 192.78L907.50 196.37L905.79 199.95L904.04 203.51L902.26 207.05L900.46 210.59L898.65 214.11L896.84 217.64L895.06 221.18L893.31 224.74L891.62 228.32L889.99 231.92L888.40 235.55L886.85 239.20L885.33 242.86L883.83 246.53L882.34 250.20L880.83 253.87L879.31 257.53L877.74 261.17L876.13 264.79L874.49 268.39L872.80 271.98L871.06 275.54L869.29 279.09L867.49 282.62L865.66 286.14L863.84 289.66L862.02 293.18L860.24 296.72L858.50 300.28L856.81 303.86L855.17 307.46L853.59 311.09L852.07 314.74L850.61 318.42L849.19 322.12L847.81 325.83L846.43 329.55L845.04 333.26L843.64 336.97L842.24 340.68L840.85 344.39L839.47 348.11L838.12 351.84L836.80 355.58L835.51 359.33L834.26 363.10L833.06 366.87L831.90 370.66L830.80 374.47L829.75 378.29L828.75 382.13L827.82 385.98L826.95 389.84L826.15 393.72L825.41 397.61L824.72 401.52L824.07 405.43L823.45 409.35L822.87 413.27L822.32 417.20L821.80 421.13L821.31 425.07L820.85 429.00L820.43 432.95L820.05 436.89L819.69 440.84L819.37 444.79L819.07 448.75L818.80 452.70L818.56 456.66L818.33 460.62L818.13 464.58L817.94 468.54L817.77 472.51L817.61 476.47L817.47 480.43L817.34 484.40L817.21 488.36L817.09 492.33L816.99 496.29L816.88 500.25L816.79 504.22L816.70 508.18L816.61 512.14L816.53 516.11L816.45 520.07L816.37 524.04L816.29 528.00" fill="none" stroke="url(#h5red)" stroke-width="5.4" stroke-linejoin="round"/>
<circle cx="934.9" cy="78.2" r="7.3" fill="#e63b45"/>
<rect x="69.9" y="58.4" width="2.9" height="473" fill="#1a1a1a"/>
<rect x="70" y="528.6" width="926" height="3.1" fill="url(#axisfade)"/>
<rect x="71" y="507.10" width="6" height="2.4" fill="#1a1a1a"/>
<rect x="71" y="483.50" width="12" height="2.4" fill="#1a1a1a"/>
<text x="65.5" y="487.30" text-anchor="end" font-family="Liberation Sans" font-size="10.6" letter-spacing="0.9" stroke="#1a1a1a" stroke-width="0.55" textLength="15.5" lengthAdjust="spacingAndGlyphs" fill="#1a1a1a">50</text>
<rect x="71" y="459.90" width="6" height="2.4" fill="#1a1a1a"/>
<rect x="71" y="436.30" width="12" height="2.4" fill="#1a1a1a"/>
<text x="65.5" y="440.10" text-anchor="end" font-family="Liberation Sans" font-size="10.6" letter-spacing="0.9" stroke="#1a1a1a" stroke-width="0.55" textLength="23.2" lengthAdjust="spacingAndGlyphs" fill="#1a1a1a">100</text>
<rect x="71" y="412.70" width="6" height="2.4" fill="#1a1a1a"/>
<rect x="71" y="389.10" width="12" height="2.4" fill="#1a1a1a"/>
<text x="65.5" y="392.90" text-anchor="end" font-family="Liberation Sans" font-size="10.6" letter-spacing="0.9" stroke="#1a1a1a" stroke-width="0.55" textLength="23.2" lengthAdjust="spacingAndGlyphs" fill="#1a1a1a">150</text>
<rect x="71" y="365.50" width="6" height="2.4" fill="#1a1a1a"/>
<rect x="71" y="341.90" width="12" height="2.4" fill="#1a1a1a"/>
<text x="65.5" y="345.70" text-anchor="end" font-family="Liberation Sans" font-size="10.6" letter-spacing="0.9" stroke="#1a1a1a" stroke-width="0.55" textLength="23.2" lengthAdjust="spacingAndGlyphs" fill="#1a1a1a">200</text>
<rect x="71" y="318.30" width="6" height="2.4" fill="#1a1a1a"/>
<rect x="71" y="294.70" width="12" height="2.4" fill="#1a1a1a"/>
<text x="65.5" y="298.50" text-anchor="end" font-family="Liberation Sans" font-size="10.6" letter-spacing="0.9" stroke="#1a1a1a" stroke-width="0.55" textLength="23.2" lengthAdjust="spacingAndGlyphs" fill="#1a1a1a">250</text>
<rect x="71" y="271.10" width="6" height="2.4" fill="#1a1a1a"/>
<rect x="71" y="247.50" width="12" height="2.4" fill="#1a1a1a"/>
<text x="65.5" y="251.30" text-anchor="end" font-family="Liberation Sans" font-size="10.6" letter-spacing="0.9" stroke="#1a1a1a" stroke-width="0.55" textLength="23.2" lengthAdjust="spacingAndGlyphs" fill="#1a1a1a">300</text>
<rect x="71" y="223.90" width="6" height="2.4" fill="#1a1a1a"/>
<rect x="71" y="200.30" width="12" height="2.4" fill="#1a1a1a"/>
<text x="65.5" y="204.10" text-anchor="end" font-family="Liberation Sans" font-size="10.6" letter-spacing="0.9" stroke="#1a1a1a" stroke-width="0.55" textLength="23.2" lengthAdjust="spacingAndGlyphs" fill="#1a1a1a">350</text>
<rect x="71" y="176.70" width="6" height="2.4" fill="#1a1a1a"/>
<rect x="71" y="153.10" width="12" height="2.4" fill="#1a1a1a"/>
<text x="65.5" y="156.90" text-anchor="end" font-family="Liberation Sans" font-size="10.6" letter-spacing="0.9" stroke="#1a1a1a" stroke-width="0.55" textLength="23.2" lengthAdjust="spacingAndGlyphs" fill="#1a1a1a">400</text>
<rect x="71" y="129.50" width="6" height="2.4" fill="#1a1a1a"/>
<rect x="71" y="105.90" width="12" height="2.4" fill="#1a1a1a"/>
<text x="65.5" y="109.70" text-anchor="end" font-family="Liberation Sans" font-size="10.6" letter-spacing="0.9" stroke="#1a1a1a" stroke-width="0.55" textLength="23.2" lengthAdjust="spacingAndGlyphs" fill="#1a1a1a">450</text>
<rect x="71" y="82.30" width="6" height="2.4" fill="#1a1a1a"/>
<rect x="71" y="58.70" width="12" height="2.4" fill="#1a1a1a"/>
<text x="65.5" y="62.50" text-anchor="end" font-family="Liberation Sans" font-size="10.6" letter-spacing="0.9" stroke="#1a1a1a" stroke-width="0.55" textLength="23.2" lengthAdjust="spacingAndGlyphs" fill="#1a1a1a">500</text>
<text x="65.5" y="533.4" text-anchor="end" font-family="Liberation Sans" font-size="10.6" stroke="#1a1a1a" stroke-width="0.55" textLength="7.6" lengthAdjust="spacingAndGlyphs" fill="#1a1a1a">0</text>
<polygon points="174.51,544.80 181.71,544.80 170.80,562.40 163.60,562.40" fill="#141414"/>
<polygon points="193.71,544.80 200.91,544.80 190.00,562.40 182.80,562.40" fill="#141414"/>
<polygon points="176.93,550.90 190.93,550.90 188.76,554.40 174.76,554.40" fill="#141414"/>
<polygon points="205.30,545.00 216.00,545.00 217.90,546.30 217.60,548.00 209.00,562.50 201.10,562.50 209.40,549.60 206.60,548.20" fill="#141414"/>
<path d="M216.50 562.6 L228.30 544.2 L271.70 544.2 Q273.80 544.2 272.80 545.8000000000001 L263.00 562.6 Z" fill="#141414"/>
<polygon points="229.40,547.20 234.60,547.20 236.80,553.20 239.60,547.20 245.00,547.20 239.20,558.90 232.80,558.90" fill="#fff"/>
<polygon points="248.00,547.20 261.00,547.20 262.70,548.20 262.50,550.00 260.80,551.60 253.60,556.00 260.00,556.00 258.60,559.00 242.60,559.00 243.60,557.20 254.60,550.60 249.20,550.60" fill="#fff"/>
<polygon points="330.91,544.80 338.11,544.80 327.20,562.40 320.00,562.40" fill="#141414"/>
<polygon points="350.11,544.80 357.31,544.80 346.40,562.40 339.20,562.40" fill="#141414"/>
<polygon points="333.33,550.90 347.33,550.90 345.16,554.40 331.16,554.40" fill="#141414"/>
<polygon points="359.40,545.00 377.60,545.00 380.60,546.40 380.40,548.60 378.00,551.60 366.60,558.40 376.30,558.40 374.30,562.20 352.20,562.20 353.80,558.90 372.60,548.40 361.20,548.40" fill="#141414"/>
<path d="M380.00 562.6 L391.80 544.2 L435.20 544.2 Q437.30 544.2 436.30 545.8000000000001 L426.50 562.6 Z" fill="#141414"/>
<polygon points="392.90,547.20 398.10,547.20 400.30,553.20 403.10,547.20 408.50,547.20 402.70,558.90 396.30,558.90" fill="#fff"/>
<polygon points="411.50,547.20 424.50,547.20 426.20,548.20 426.00,550.00 424.30,551.60 417.10,556.00 423.50,556.00 422.10,559.00 406.10,559.00 407.10,557.20 418.10,550.60 412.70,550.60" fill="#fff"/>
<polygon points="479.66,544.80 486.86,544.80 475.95,562.40 468.75,562.40" fill="#141414"/>
<polygon points="498.86,544.80 506.06,544.80 495.15,562.40 487.95,562.40" fill="#141414"/>
<polygon points="482.08,550.90 496.08,550.90 493.91,554.40 479.91,554.40" fill="#141414"/>
<polygon points="509.00,545.00 530.00,545.00 528.20,548.30 510.60,548.30" fill="#141414"/>
<polygon points="508.40,551.50 528.00,551.50 526.20,554.90 506.60,554.90" fill="#141414"/>
<polygon points="503.10,558.20 523.00,558.20 521.00,562.10 500.90,562.10" fill="#141414"/>
<polygon points="524.00,545.00 530.50,545.00 532.40,546.00 532.60,547.60 529.30,552.80 527.60,555.40 524.20,561.00 521.60,562.10 516.00,562.10 519.90,558.20 522.10,554.90 523.50,551.50 525.40,548.30" fill="#141414"/>
<path d="M531.00 562.6 L542.80 544.2 L586.20 544.2 Q588.30 544.2 587.30 545.8000000000001 L577.50 562.6 Z" fill="#141414"/>
<polygon points="543.90,547.20 549.10,547.20 551.30,553.20 554.10,547.20 559.50,547.20 553.70,558.90 547.30,558.90" fill="#fff"/>
<polygon points="562.50,547.20 575.50,547.20 577.20,548.20 577.00,550.00 575.30,551.60 568.10,556.00 574.50,556.00 573.10,559.00 557.10,559.00 558.10,557.20 569.10,550.60 563.70,550.60" fill="#fff"/>
<polygon points="628.11,544.80 635.31,544.80 624.40,562.40 617.20,562.40" fill="#141414"/>
<polygon points="647.31,544.80 654.51,544.80 643.60,562.40 636.40,562.40" fill="#141414"/>
<polygon points="630.53,550.90 644.53,550.90 642.36,554.40 628.36,554.40" fill="#141414"/>
<polygon points="657.20,545.20 664.40,545.20 657.60,556.90 649.90,556.90" fill="#141414"/>
<polygon points="651.80,553.50 679.60,553.50 678.30,556.90 649.70,556.90" fill="#141414"/>
<polygon points="673.40,545.20 680.60,545.20 669.80,562.30 662.30,562.30" fill="#141414"/>
<path d="M681.60 562.6 L693.40 544.2 L736.80 544.2 Q738.90 544.2 737.90 545.8000000000001 L728.10 562.6 Z" fill="#141414"/>
<polygon points="694.50,547.20 699.70,547.20 701.90,553.20 704.70,547.20 710.10,547.20 704.30,558.90 697.90,558.90" fill="#fff"/>
<polygon points="713.10,547.20 726.10,547.20 727.80,548.20 727.60,550.00 725.90,551.60 718.70,556.00 725.10,556.00 723.70,559.00 707.70,559.00 708.70,557.20 719.70,550.60 714.30,550.60" fill="#fff"/>
<polygon points="788.11,544.80 795.31,544.80 784.40,562.40 777.20,562.40" fill="#141414"/>
<polygon points="807.31,544.80 814.51,544.80 803.60,562.40 796.40,562.40" fill="#141414"/>
<polygon points="790.53,550.90 804.53,550.90 802.36,554.40 788.36,554.40" fill="#141414"/>
<polygon points="821.20,545.20 843.90,545.20 841.90,548.60 826.20,548.60" fill="#141414"/>
<polygon points="821.20,545.20 826.60,545.20 826.20,548.60 824.40,551.30 820.50,555.10 814.70,555.10 819.20,547.50" fill="#141414"/>
<polygon points="816.50,551.30 836.50,551.30 838.60,552.40 838.80,554.00 834.50,560.60 832.00,562.30 811.30,562.30 813.60,558.20 828.40,558.20 830.20,555.10 814.70,555.10" fill="#141414"/>
<rect x="159.20" y="579.6" width="6.8" height="4" fill="#1a1a1a"/>
<rect x="171.85" y="579.6" width="6.8" height="4" fill="#1a1a1a"/>
<rect x="184.49" y="579.6" width="6.8" height="4" fill="#1a1a1a"/>
<rect x="197.14" y="579.6" width="6.8" height="4" fill="#1a1a1a"/>
<rect x="209.79" y="579.6" width="6.8" height="4" fill="#1a1a1a"/>
<rect x="222.44" y="579.6" width="6.8" height="4" fill="#1a1a1a"/>
<rect x="235.08" y="579.6" width="6.8" height="4" fill="#1a1a1a"/>
<rect x="247.73" y="579.6" width="6.8" height="4" fill="#1a1a1a"/>
<rect x="260.38" y="579.6" width="6.8" height="4" fill="#1a1a1a"/>
<rect x="273.02" y="579.6" width="6.8" height="4" fill="#1a1a1a"/>
<rect x="285.67" y="579.6" width="6.8" height="4" fill="#1a1a1a"/>
<rect x="298.32" y="579.6" width="6.8" height="4" fill="#1a1a1a"/>
<rect x="310.96" y="579.6" width="6.8" height="4" fill="#1a1a1a"/>
<rect x="323.61" y="579.6" width="6.8" height="4" fill="#1a1a1a"/>
<rect x="336.26" y="579.6" width="6.8" height="4" fill="#1a1a1a"/>
<rect x="348.90" y="579.6" width="6.8" height="4" fill="#1a1a1a"/>
<rect x="361.55" y="579.6" width="6.8" height="4" fill="#1a1a1a"/>
<rect x="374.20" y="579.6" width="6.8" height="4" fill="#1a1a1a"/>
<rect x="386.85" y="579.6" width="6.8" height="4" fill="#1a1a1a"/>
<rect x="399.49" y="579.6" width="6.8" height="4" fill="#1a1a1a"/>
<rect x="412.14" y="579.6" width="6.8" height="4" fill="#1a1a1a"/>
<rect x="424.79" y="579.6" width="6.8" height="4" fill="#1a1a1a"/>
<rect x="437.43" y="579.6" width="6.8" height="4" fill="#1a1a1a"/>
<rect x="450.08" y="579.6" width="6.8" height="4" fill="#1a1a1a"/>
<rect x="462.73" y="579.6" width="6.8" height="4" fill="#1a1a1a"/>
<rect x="475.38" y="579.6" width="6.8" height="4" fill="#1a1a1a"/>
<rect x="488.02" y="579.6" width="6.8" height="4" fill="#1a1a1a"/>
<rect x="500.67" y="579.6" width="6.8" height="4" fill="#1a1a1a"/>
<rect x="513.32" y="579.6" width="6.8" height="4" fill="#1a1a1a"/>
<rect x="525.96" y="579.6" width="6.8" height="4" fill="#1a1a1a"/>
<rect x="538.61" y="579.6" width="6.8" height="4" fill="#1a1a1a"/>
<rect x="551.26" y="579.6" width="6.8" height="4" fill="#1a1a1a"/>
<rect x="563.90" y="579.6" width="6.8" height="4" fill="#1a1a1a"/>
<rect x="576.55" y="579.6" width="6.8" height="4" fill="#1a1a1a"/>
<rect x="589.20" y="579.6" width="6.8" height="4" fill="#1a1a1a"/>
<rect x="601.85" y="579.6" width="6.8" height="4" fill="#1a1a1a"/>
<rect x="614.49" y="579.6" width="6.8" height="4" fill="#1a1a1a"/>
<rect x="627.14" y="579.6" width="6.8" height="4" fill="#1a1a1a"/>
<rect x="639.79" y="579.6" width="6.8" height="4" fill="#1a1a1a"/>
<rect x="652.43" y="579.6" width="6.8" height="4" fill="#1a1a1a"/>
<rect x="665.08" y="579.6" width="6.8" height="4" fill="#1a1a1a"/>
<rect x="677.73" y="579.6" width="6.8" height="4" fill="#1a1a1a"/>
<rect x="690.37" y="579.6" width="6.8" height="4" fill="#1a1a1a"/>
<rect x="703.02" y="579.6" width="6.8" height="4" fill="#1a1a1a"/>
<rect x="715.67" y="579.6" width="6.8" height="4" fill="#1a1a1a"/>
<rect x="728.32" y="579.6" width="6.8" height="4" fill="#1a1a1a"/>
<rect x="740.96" y="579.6" width="6.8" height="4" fill="#1a1a1a"/>
<rect x="753.61" y="579.6" width="6.8" height="4" fill="#1a1a1a"/>
<rect x="766.26" y="579.6" width="6.8" height="4" fill="#1a1a1a"/>
<rect x="778.90" y="579.6" width="6.8" height="4" fill="#1a1a1a"/>
<rect x="791.55" y="579.6" width="6.8" height="4" fill="#1a1a1a"/>
<rect x="804.20" y="579.6" width="6.8" height="4" fill="#1a1a1a"/>
<rect x="816.84" y="579.6" width="6.8" height="4" fill="#1a1a1a"/>
<rect x="829.49" y="579.6" width="6.8" height="4" fill="#1a1a1a"/>
<polygon points="477.81,607.90 490.71,607.90 471.40,637.70 458.50,637.70" fill="#231f20"/>
<polygon points="507.41,607.90 520.11,607.90 500.80,637.70 488.10,637.70" fill="#231f20"/>
<polygon points="482.05,619.10 502.05,619.10 498.36,624.80 478.36,624.80" fill="#231f20"/>
<text x="518.6" y="635" font-family="Liberation Sans" font-size="20.4" stroke="#231f20" stroke-width="0.1" textLength="91" lengthAdjust="spacingAndGlyphs" fill="#231f20">SERIES</text>
<text x="452" y="662.2" font-family="Liberation Sans" font-size="15.6" letter-spacing="2" stroke="#231f20" stroke-width="0.6" textLength="158.5" lengthAdjust="spacingAndGlyphs" fill="#231f20">HYBRID DRIVERS</text>
<text x="17" y="701" font-family="Liberation Sans" font-size="19.3" textLength="40" lengthAdjust="spacingAndGlyphs" fill="#231f20">Key</text>
<rect x="15.6" y="712" width="152.80" height="26.5" fill="#52b766"/>
<text x="72.50" y="731.2" font-family="Liberation Sans" font-weight="bold" font-size="16" letter-spacing="1.5" textLength="41.60" lengthAdjust="spacingAndGlyphs" fill="#fff" stroke="#fff" stroke-width="0.25">REC</text>
<rect x="168.4" y="712" width="150.10" height="26.5" fill="#3e74bb"/>
<text x="226.70" y="731.2" font-family="Liberation Sans" font-weight="bold" font-size="16" letter-spacing="1.5" textLength="34.80" lengthAdjust="spacingAndGlyphs" fill="#fff" stroke="#fff" stroke-width="0.25">INT</text>
<rect x="318.5" y="712" width="150.70" height="26.5" fill="#f5821f"/>
<text x="372.40" y="731.2" font-family="Liberation Sans" font-weight="bold" font-size="16" letter-spacing="1.5" textLength="45.00" lengthAdjust="spacingAndGlyphs" fill="#fff" stroke="#fff" stroke-width="0.25">ADV</text>
<rect x="469.2" y="712" width="152.60" height="26.5" fill="#ec1c24"/>
<text x="525.30" y="731.2" font-family="Liberation Sans" font-weight="bold" font-size="16" letter-spacing="1.5" textLength="43.40" lengthAdjust="spacingAndGlyphs" fill="#fff" stroke="#fff" stroke-width="0.25">PRO</text>
</svg>
</body></html>
